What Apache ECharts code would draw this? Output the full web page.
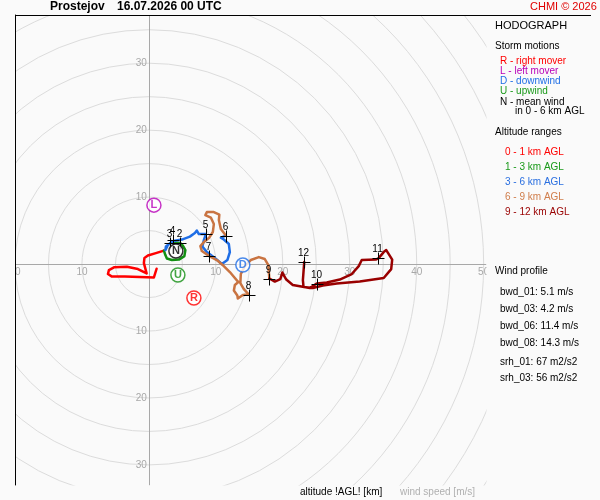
<!DOCTYPE html>
<html>
<head>
<meta charset="utf-8">
<title>Hodograph Prostejov</title>
<script src="https://cdn.jsdelivr.net/npm/echarts@6/dist/echarts.min.js"></script>
<style>
  html, body { margin: 0; padding: 0; background: #fafafa; }
  #chart { width: 600px; height: 500px; }
</style>
</head>
<body>
<div id="chart"></div>
<script>
// wind speed rings [m/s] and where they are labelled on the axes
var ringRadii = [5, 10, 15, 20, 25, 30, 35, 40, 45, 50, 55, 60];
var ringTicksU = [-20, -10, 10, 20, 30, 40, 50];
var ringTicksV = [-30, -20, -10, 10, 20, 30];

// hodograph, [u, v] in m/s, by altitude range
var path0to1 = [
  [1.15, -0.70], [0.75, -1.99], [-1.34, -1.94], [-3.58, -1.87], [-5.52, -1.87],
  [-6.12, -1.49], [-5.97, -0.90], [-5.22, -0.49], [-3.28, -0.40], [-1.64, -0.75],
  [-0.34, -1.39], [-0.75, 0.15], [-0.67, 0.90], [-0.15, 1.27], [1.04, 1.64], [2.24, 2.01]
];
var path1to3 = [
  [2.24, 2.01], [2.46, 1.34], [2.69, 0.82], [3.43, 0.60], [4.48, 0.67], [5.30, 1.19],
  [5.45, 2.09], [5.07, 2.76], [4.70, 3.13], [3.88, 3.21], [3.21, 3.13]
];
var path3to6 = [
  [3.21, 3.13], [2.54, 2.61], [2.46, 2.09], [2.84, 2.84], [3.66, 3.43], [4.93, 3.66],
  [6.12, 4.10], [6.87, 4.63], [7.16, 5.00], [7.46, 4.48], [8.51, 4.48], [8.21, 3.58],
  [7.99, 2.61], [8.66, 1.79], [9.85, 0.90], [10.90, 0.00], [11.72, 0.60], [12.09, 1.79],
  [11.94, 2.99], [11.19, 3.66], [10.75, 3.95], [11.49, 4.25]
];
var path6to9 = [
  [11.49, 4.25], [10.75, 5.22], [10.45, 6.57], [10.52, 7.39], [9.70, 7.76], [8.66, 7.76],
  [8.43, 7.31], [9.25, 6.94], [9.70, 5.97], [9.55, 4.78], [8.96, 3.88], [8.21, 3.28],
  [7.69, 2.69], [7.91, 1.94], [9.03, 1.19], [10.15, 0.60], [11.19, -0.30], [12.09, -1.19],
  [12.84, -2.09], [13.36, -2.69], [12.84, -3.13], [12.69, -3.96], [13.21, -4.70],
  [13.28, -5.15], [14.03, -4.63], [14.93, -4.55], [14.18, -3.73], [13.66, -2.84],
  [13.73, -1.49], [14.33, -0.30], [15.22, 0.60], [16.42, 1.04], [17.31, 0.75],
  [17.84, -0.15], [17.99, -2.16]
];
var path9to12 = [
  [17.99, -2.16], [18.81, -2.61], [19.63, -2.24], [19.93, -1.27], [20.52, -2.31],
  [21.49, -3.13], [22.76, -3.36], [24.03, -3.58], [25.07, -2.91], [26.57, -2.76],
  [28.51, -2.31], [30.30, -1.49], [31.34, -0.30], [31.79, 0.60], [33.88, 0.67],
  [34.28, 0.85], [35.07, 1.79], [35.45, 2.09], [36.34, 0.67], [36.19, -0.75],
  [35.07, -2.09], [31.49, -2.61], [28.06, -2.91], [25.97, -3.21], [24.48, -3.58],
  [23.10, -3.43], [23.00, -2.39], [23.20, 0.30]
];

// altitude marks [km] and their [u, v]
var kmLabels = [2, 3, 4, 5, 6, 7, 8, 9, 10, 11, 12];
var kmPoints = [
  [4.70, 3.21], [3.21, 3.21], [3.66, 3.58], [8.51, 4.48], [11.49, 4.25], [9.03, 1.19],
  [14.93, -4.55], [17.99, -2.16], [25.07, -2.91], [34.28, 0.85], [23.20, 0.30]
];

// storm motions
var stormNames = ['L', 'N', 'U', 'R', 'D'];
var stormPoints = [[0.75, 8.8], [4.03, 1.94], [4.33, -1.64], [6.72, -5.07], [14.03, -0.15]];

// legend texts
var stormLegend = ['R - right mover', 'L - left mover', 'D - downwind', 'U - upwind', 'N - mean wind'];
var rangeLegend = ['0 - 1 km AGL', '1 - 3 km AGL', '3 - 6 km AGL', '6 - 9 km AGL', '9 - 12 km AGL'];
var windNames = ['bwd_01', 'bwd_03', 'bwd_06', 'bwd_08', 'srh_01', 'srh_03'];
var windValues = [5.1, 4.2, 11.4, 14.3, 67, 56];
var windUnits = ['m/s', 'm/s', 'm/s', 'm/s', 'm2/s2', 'm2/s2'];

var FONT = '"Liberation Sans", Arial, sans-serif';
var BG = '#fafafa';
var C_RED = '#ff0000', C_GREEN = '#138f13', C_BLUE = '#1f6ee6', C_ORANGE = '#c97442', C_DARK = '#990000';
var C_PURPLE = '#b800b8';
var C_GRID = '#a8a8a8';
var stormColors = [C_PURPLE, '#000000', C_GREEN, C_RED, C_BLUE];
var stormLegendColors = [C_RED, C_PURPLE, C_BLUE, '#1a9a1a', '#000000'];
var rangeColors = [C_RED, '#1a9a1a', '#2a6fe0', '#d07e4c', C_DARK];

var myChart = echarts.init(document.getElementById('chart'));

function txt(x, y, text, color, size, bold) {
  return {
    type: 'text', z: 50, silent: true,
    style: {
      text: text, x: x, y: y,
      textAlign: 'left', align: 'left',
      textVerticalAlign: 'middle', verticalAlign: 'middle',
      fill: color,
      font: (bold ? 'bold ' : '') + size + 'px ' + FONT
    }
  };
}

function mask(x, y, w, h) {
  return { type: 'rect', z: 40, silent: true, shape: { x: x, y: y, width: w, height: h }, style: { fill: BG } };
}

function pathSeries(name, data, color) {
  return {
    type: 'line', name: name, data: data,
    showSymbol: false, symbol: 'none', silent: true, z: 2,
    lineStyle: { color: color, width: 2.5, join: 'round', cap: 'round' }
  };
}

var graphics = [
  // keep the rings and their labels inside the plot frame
  mask(0, 0, 600, 15),
  mask(0, 0, 15, 500),
  mask(486.5, 0, 114, 500),
  mask(0, 485.5, 600, 15),
  txt(50, 7, 'Prostejov', '#000', 12, true),
  txt(117, 7, '16.07.2026 00 UTC', '#000', 12, true),
  txt(530, 7, 'CHMI \u00a9 2026', '#e00000', 11),
  { type: 'line', z: 50, silent: true, shape: { x1: 15, y1: 15.5, x2: 591, y2: 15.5 }, style: { stroke: '#000', lineWidth: 1 } },
  txt(495, 26, 'HODOGRAPH', '#000', 11),
  txt(495, 46, 'Storm motions', '#000', 10),
  txt(515, 111.5, 'in 0 - 6 km AGL', '#000', 10),
  txt(495, 132, 'Altitude ranges', '#000', 10),
  txt(495, 271, 'Wind profile', '#000', 10),
  txt(300, 492, 'altitude !AGL! [km]', '#000', 10),
  txt(400, 492, 'wind speed [m/s]', '#b0b0b0', 10)
];
stormLegend.forEach(function (s, i) {
  graphics.push(txt(500, 61 + i * 10.2, s, stormLegendColors[i], 10));
});
rangeLegend.forEach(function (s, i) {
  graphics.push(txt(505, 152 + i * 15, s, rangeColors[i], 10));
});
var windRowY = [292, 309, 326, 343, 362, 378];
windNames.forEach(function (n, i) {
  graphics.push(txt(500, windRowY[i], n + ': ' + windValues[i] + ' ' + windUnits[i], '#000', 10));
});

var ringLabelData = ringTicksU.map(function (u) { return [u, 0, 0]; })
  .concat(ringTicksV.map(function (v) { return [0, v, 1]; }));

var option = {
  backgroundColor: BG,
  animation: false,
  textStyle: { fontFamily: FONT },
  grid: { left: 15, top: 15, width: 471, height: 470, containLabel: false, outerBoundsMode: 'none' },
  xAxis: {
    type: 'value', min: -20, max: 50.35, interval: 10, z: 1.5,
    axisLine: { onZero: true, lineStyle: { color: C_GRID, width: 1 } },
    axisTick: { show: false },
    splitLine: { show: false },
    axisLabel: { show: false }
  },
  yAxis: [{
    type: 'value', min: -33, max: 37.2, z: 1.5,
    axisLine: { onZero: true, lineStyle: { color: C_GRID, width: 1 } },
    axisTick: { show: false },
    splitLine: { show: false },
    axisLabel: { show: false }
  }, {
    type: 'value', min: -33, max: 37.2, position: 'left', z: 45,
    axisLine: { show: true, onZero: false, lineStyle: { color: '#000', width: 1 } },
    axisTick: { show: false },
    axisLabel: { show: false },
    splitLine: { show: false }
  }],
  graphic: graphics,
  series: [
    {
      type: 'custom', name: 'rings', coordinateSystem: 'cartesian2d', z: 1, silent: true,
      data: ringRadii.map(function (r) { return [r, 0]; }),
      renderItem: function (params, api) {
        var c = api.coord([0, 0]);
        var r = api.size([api.value(0), 0])[0];
        return {
          type: 'circle',
          shape: { cx: c[0], cy: c[1], r: r },
          style: { fill: 'none', stroke: '#dcdcdc', lineWidth: 1 }
        };
      }
    },
    {
      type: 'custom', name: 'ring labels', coordinateSystem: 'cartesian2d', z: 1.6, silent: true,
      data: ringLabelData,
      renderItem: function (params, api) {
        var u = api.value(0), v = api.value(1), onV = api.value(2) === 1;
        var p = api.coord([u, v]);
        return {
          type: 'text',
          style: {
            text: String(Math.abs(onV ? v : u)),
            x: onV ? p[0] - 2 : p[0], y: onV ? p[1] : p[1] + 8,
            textAlign: onV ? 'right' : 'center', align: onV ? 'right' : 'center',
            textVerticalAlign: 'middle', verticalAlign: 'middle',
            fill: C_GRID, font: '10px ' + FONT
          }
        };
      }
    },
    pathSeries('0 - 1 km', path0to1, C_RED),
    pathSeries('1 - 3 km', path1to3, C_GREEN),
    pathSeries('3 - 6 km', path3to6, C_BLUE),
    pathSeries('6 - 9 km', path6to9, C_ORANGE),
    pathSeries('9 - 12 km', path9to12, C_DARK),
    {
      type: 'custom', name: 'km marks', coordinateSystem: 'cartesian2d', z: 3, silent: true,
      data: kmPoints.map(function (p, i) { return [p[0], p[1], kmLabels[i]]; }),
      renderItem: function (params, api) {
        var p = api.coord([api.value(0), api.value(1)]);
        var x = Math.round(p[0]) + 0.5, y = Math.round(p[1]) + 0.5;
        return {
          type: 'group',
          children: [
            { type: 'line', shape: { x1: x - 6, y1: y, x2: x + 6, y2: y }, style: { stroke: '#000', lineWidth: 1 } },
            { type: 'line', shape: { x1: x, y1: y - 6, x2: x, y2: y + 6 }, style: { stroke: '#000', lineWidth: 1 } },
            {
              type: 'text',
              style: {
                text: String(api.value(2)), x: x - 1, y: y - 9,
                textAlign: 'center', align: 'center',
                textVerticalAlign: 'middle', verticalAlign: 'middle',
                fill: '#000', font: '10px ' + FONT
              }
            }
          ]
        };
      }
    },
    {
      type: 'scatter', name: 'storm motions', z: 4, silent: true,
      symbol: 'circle', symbolSize: 14,
      data: stormNames.map(function (n, i) {
        return {
          name: n, value: stormPoints[i],
          itemStyle: { color: '#ffffff', borderColor: stormColors[i], borderWidth: 1.5 },
          label: { color: stormColors[i] }
        };
      }),
      label: { show: true, position: 'inside', formatter: '{b}', fontSize: 11, fontWeight: 'bold', fontFamily: FONT }
    }
  ]
};

myChart.setOption(option);
</script>
</body>
</html>
